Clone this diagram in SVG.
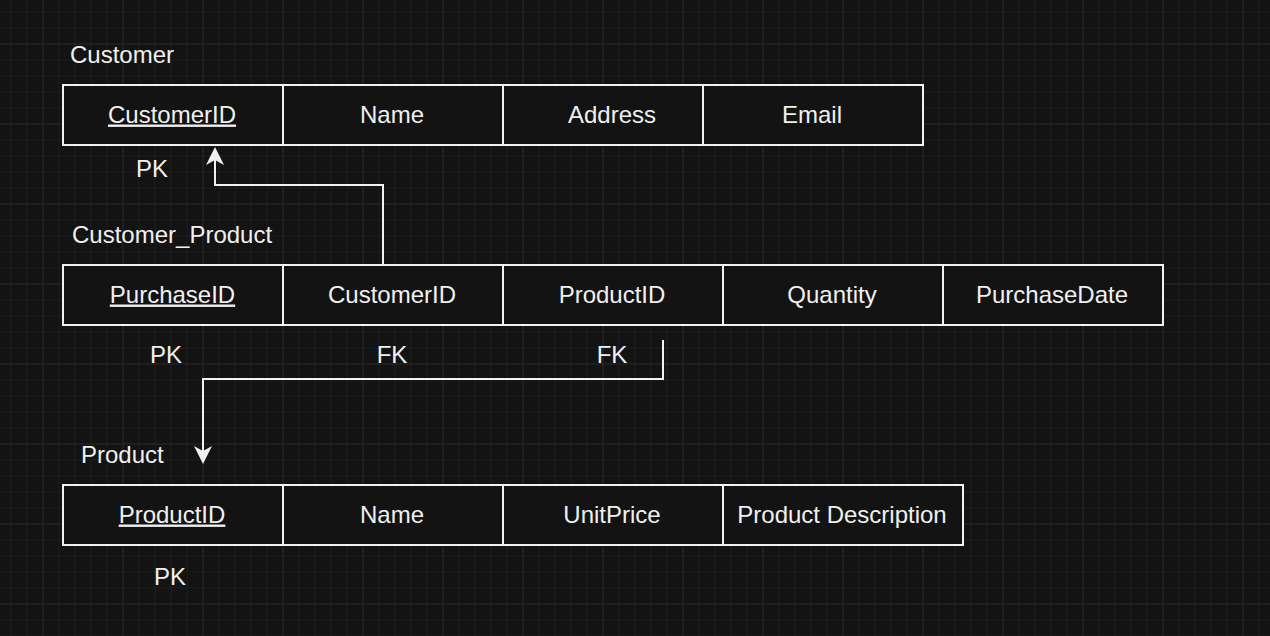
<svg xmlns="http://www.w3.org/2000/svg" width="1270" height="636" viewBox="0 0 1270 636">
  <defs>
    <pattern id="grid" width="80" height="80" patternUnits="userSpaceOnUse" patternTransform="translate(42.5,43.5)">
      <rect width="80" height="80" fill="#131313"/>
      <g fill="#1c1c1c">
        <rect x="16" y="0" width="1" height="80"/>
        <rect x="32" y="0" width="1" height="80"/>
        <rect x="48" y="0" width="1" height="80"/>
        <rect x="64" y="0" width="1" height="80"/>
        <rect x="0" y="16" width="80" height="1"/>
        <rect x="0" y="32" width="80" height="1"/>
        <rect x="0" y="48" width="80" height="1"/>
        <rect x="0" y="64" width="80" height="1"/>
      </g>
      <g fill="#2a2a2a">
        <rect x="0" y="0" width="1" height="80"/>
        <rect x="0" y="0" width="80" height="1"/>
      </g>
    </pattern>
    <marker id="arrow" viewBox="0 0 18 18" refX="5" refY="9" markerWidth="18" markerHeight="18" markerUnits="userSpaceOnUse" orient="auto">
      <path d="M18,9 L0,0 L5,9 L0,18 Z" fill="#f0f0f0"/>
    </marker>
    <style>
      .cell { fill: #131313; stroke: #f2f2f2; stroke-width: 2; }
      .t { font-family: "Liberation Sans", Arial, Helvetica, sans-serif; font-size: 24px; fill: #f0f0f0; }
      .c { text-anchor: middle; }
      .pk { text-decoration: underline; }
      .edge { fill: none; stroke: #f2f2f2; stroke-width: 2; marker-end: url(#arrow); }
    </style>
  </defs>

  <rect x="0" y="0" width="1270" height="636" fill="url(#grid)"/>

  <g id="customer">
    <text class="t" x="70" y="63">Customer</text>
    <rect class="cell" x="63" y="85" width="220" height="60"/>
    <rect class="cell" x="283" y="85" width="220" height="60"/>
    <rect class="cell" x="503" y="85" width="200" height="60"/>
    <rect class="cell" x="703" y="85" width="220" height="60"/>
    <text class="t c pk" x="172" y="122.5">CustomerID</text>
    <text class="t c" x="392" y="122.5">Name</text>
    <text class="t c" x="612" y="122.5">Address</text>
    <text class="t c" x="812" y="122.5">Email</text>
    <text class="t c" x="152" y="177">PK</text>
  </g>

  <g id="customer_product">
    <text class="t" x="72" y="243">Customer_Product</text>
    <rect class="cell" x="63" y="265" width="220" height="60"/>
    <rect class="cell" x="283" y="265" width="220" height="60"/>
    <rect class="cell" x="503" y="265" width="220" height="60"/>
    <rect class="cell" x="723" y="265" width="220" height="60"/>
    <rect class="cell" x="943" y="265" width="220" height="60"/>
    <text class="t c pk" x="172.5" y="302.5">PurchaseID</text>
    <text class="t c" x="392" y="302.5">CustomerID</text>
    <text class="t c" x="612" y="302.5">ProductID</text>
    <text class="t c" x="832" y="302.5">Quantity</text>
    <text class="t c" x="1052" y="302.5">PurchaseDate</text>
    <text class="t c" x="166" y="363">PK</text>
    <text class="t c" x="392" y="363">FK</text>
    <text class="t c" x="612" y="363">FK</text>
  </g>

  <g id="product">
    <text class="t" x="81" y="463">Product</text>
    <rect class="cell" x="63" y="485" width="220" height="60"/>
    <rect class="cell" x="283" y="485" width="220" height="60"/>
    <rect class="cell" x="503" y="485" width="220" height="60"/>
    <rect class="cell" x="723" y="485" width="240" height="60"/>
    <text class="t c pk" x="172" y="522.5">ProductID</text>
    <text class="t c" x="392" y="522.5">Name</text>
    <text class="t c" x="612" y="522.5">UnitPrice</text>
    <text class="t c" x="842" y="522.5">Product Description</text>
    <text class="t c" x="170" y="585">PK</text>
  </g>

  <g id="connectors">
    <path class="edge" d="M383,265 L383,185 L215,185 L215,160"/>
    <path class="edge" d="M663,340 L663,379 L203,379 L203,451"/>
  </g>
</svg>
